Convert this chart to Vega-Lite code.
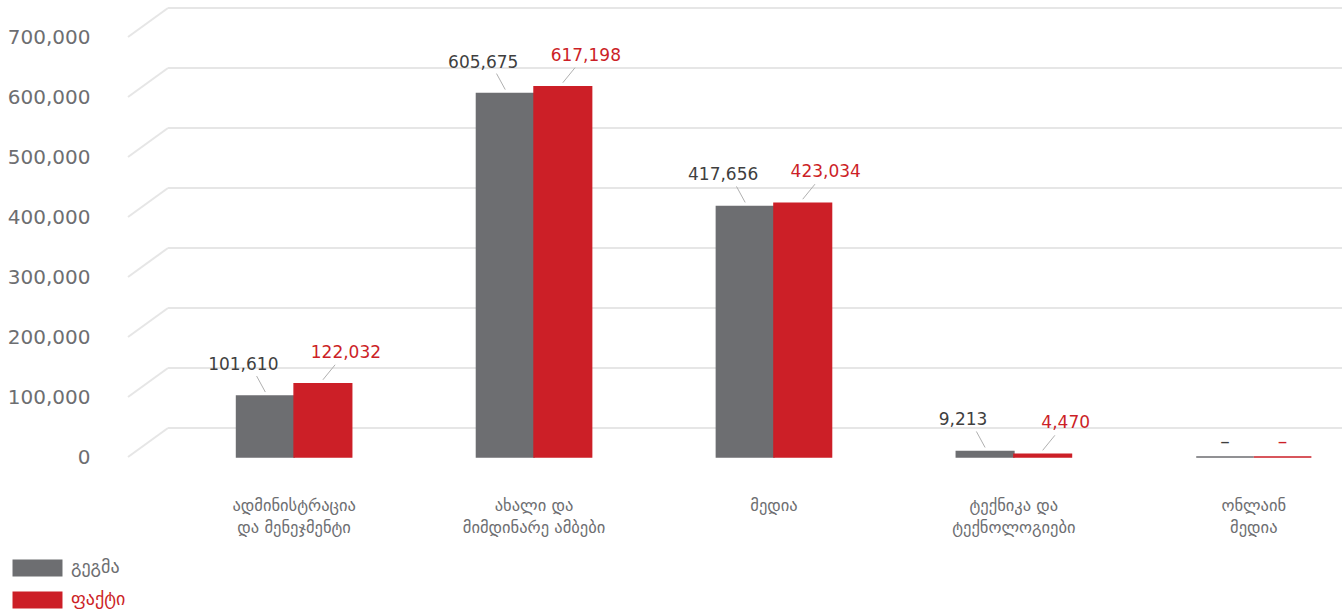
{
  "$schema": "https://vega.github.io/schema/vega-lite/v6.json",
  "width": 1214,
  "height": 457,
  "autosize": {"type": "none"},
  "padding": {"left": 128, "top": 0, "right": 0, "bottom": 159},
  "background": "white",
  "config": {"view": {"stroke": null}, "font": "DejaVu Sans"},
  "data": {"values": [
    {"category": "ადმინისტრაცია\nდა მენეჯმენტი", "series": "გეგმა", "value": 101610},
    {"category": "ადმინისტრაცია\nდა მენეჯმენტი", "series": "ფაქტი", "value": 122032},
    {"category": "ახალი და\nმიმდინარე ამბები", "series": "გეგმა", "value": 605675},
    {"category": "ახალი და\nმიმდინარე ამბები", "series": "ფაქტი", "value": 617198},
    {"category": "მედია", "series": "გეგმა", "value": 417656},
    {"category": "მედია", "series": "ფაქტი", "value": 423034},
    {"category": "ტექნიკა და\nტექნოლოგიები", "series": "გეგმა", "value": 9213},
    {"category": "ტექნიკა და\nტექნოლოგიები", "series": "ფაქტი", "value": 4470},
    {"category": "ონლაინ\nმედია", "series": "გეგმა", "value": 0},
    {"category": "ონლაინ\nმედია", "series": "ფაქტი", "value": 0}
  ]},
  "layer": [
    {
      "data": {"values": [{"v": 0}, {"v": 100000}, {"v": 200000}, {"v": 300000}, {"v": 400000}, {"v": 500000}, {"v": 600000}, {"v": 700000}]},
      "mark": {"type": "rule", "color": "#e6e6e6", "strokeWidth": 2, "yOffset": -29, "xOffset": 40},
      "encoding": {
        "y": {"field": "v", "type": "quantitative"},
        "x": {"value": 0},
        "x2": {"value": "width"}
      }
    },
    {
      "data": {"values": [{"v": 0}, {"v": 100000}, {"v": 200000}, {"v": 300000}, {"v": 400000}, {"v": 500000}, {"v": 600000}, {"v": 700000}]},
      "mark": {"type": "rule", "color": "#e6e6e6", "strokeWidth": 2, "y2Offset": -29, "x2Offset": 40},
      "encoding": {
        "y": {"field": "v", "type": "quantitative"},
        "y2": {"field": "v"},
        "x": {"value": 0},
        "x2": {"value": 0}
      }
    },
    {
      "mark": {"type": "bar", "strokeWidth": 1.5},
      "encoding": {
        "x": {"field": "category", "type": "nominal", "sort": null,
          "scale": {"paddingInner": 0.52, "paddingOuter": 0.29, "align": 0.78},
          "axis": {"title": null, "labelExpr": "split(datum.value, '\\n')", "labelFontSize": 16.5, "labelColor": "#6d6e71", "labelPadding": 40, "labelLineHeight": 22, "ticks": false, "domain": false, "labelAngle": 0, "grid": false}},
        "xOffset": {"field": "series", "type": "nominal", "sort": null, "scale": {"paddingInner": 0, "paddingOuter": 0}},
        "y": {"field": "value", "type": "quantitative", "stack": null,
          "scale": {"domain": [0, 761667], "nice": false},
          "axis": {"title": null, "values": [0, 100000, 200000, 300000, 400000, 500000, 600000, 700000], "format": ",d", "labelFontSize": 20, "labelColor": "#6d6e71", "labelPadding": 38, "ticks": false, "domain": false, "grid": false}},
        "color": {"field": "series", "type": "nominal", "sort": null,
          "scale": {"domain": ["გეგმა", "ფაქტი"], "range": ["#6d6e71", "#cc1f27"]},
          "legend": {"orient": "none", "legendX": -99.5, "legendY": 559, "direction": "vertical", "title": null,
            "symbolType": "M-2.94,-1H2.94V1H-2.94Z", "symbolSize": 289, "symbolStrokeWidth": 0,
            "labelFontSize": 18, "labelOffset": 24.5, "rowPadding": 14, "labelFont": "DejaVu Sans",
            "encode": {"labels": {"update": {"fill": {"signal": "datum.value === 'ფაქტი' ? '#cc1f27' : '#6d6e71'"}}}}}},
        "stroke": {"field": "series", "type": "nominal", "sort": null,
          "scale": {"domain": ["გეგმა", "ფაქტი"], "range": ["#6d6e71", "#cc1f27"]}, "legend": null}
      }
    },
    {
      "transform": [{"filter": "datum.series === 'გეგმა' && datum.value > 0"}],
      "mark": {"type": "text", "dx": -22, "dy": -31, "baseline": "middle", "fontSize": 17, "color": "#3f3f3f"},
      "encoding": {
        "x": {"field": "category", "type": "nominal", "sort": null},
        "xOffset": {"field": "series", "type": "nominal", "sort": null},
        "y": {"field": "value", "type": "quantitative"},
        "text": {"field": "value", "type": "quantitative", "format": ",d"}
      }
    },
    {
      "transform": [{"filter": "datum.series === 'ფაქტი' && datum.value > 0"}],
      "mark": {"type": "text", "dx": 23, "dy": -31, "baseline": "middle", "fontSize": 17, "color": "#cc1f27"},
      "encoding": {
        "x": {"field": "category", "type": "nominal", "sort": null},
        "xOffset": {"field": "series", "type": "nominal", "sort": null},
        "y": {"field": "value", "type": "quantitative"},
        "text": {"field": "value", "type": "quantitative", "format": ",d"}
      }
    },
    {
      "transform": [{"filter": "datum.series === 'გეგმა' && datum.value > 0"}],
      "mark": {"type": "rule", "color": "#b0b0b0", "strokeWidth": 1, "xOffset": 1.5, "x2Offset": -37.5, "yOffset": -4, "y2Offset": -20},
      "encoding": {
        "x": {"field": "category", "type": "nominal", "sort": null},
        "x2": {"field": "category"},
        "xOffset": {"field": "series", "type": "nominal", "sort": null},
        "y": {"field": "value", "type": "quantitative"},
        "y2": {"field": "value"}
      }
    },
    {
      "transform": [{"filter": "datum.series === 'ფაქტი' && datum.value > 0"}],
      "mark": {"type": "rule", "color": "#b0b0b0", "strokeWidth": 1, "xOffset": 1, "x2Offset": 41, "yOffset": -4, "y2Offset": -19},
      "encoding": {
        "x": {"field": "category", "type": "nominal", "sort": null},
        "x2": {"field": "category"},
        "xOffset": {"field": "series", "type": "nominal", "sort": null},
        "y": {"field": "value", "type": "quantitative"},
        "y2": {"field": "value"}
      }
    },
    {
      "transform": [{"filter": "datum.series === 'გეგმა' && datum.value == 0"}],
      "mark": {"type": "text", "text": "–", "dy": -15, "baseline": "middle", "fontSize": 19, "color": "#3f3f3f"},
      "encoding": {
        "x": {"field": "category", "type": "nominal", "sort": null},
        "xOffset": {"field": "series", "type": "nominal", "sort": null},
        "y": {"field": "value", "type": "quantitative"}
      }
    },
    {
      "transform": [{"filter": "datum.series === 'ფაქტი' && datum.value == 0"}],
      "mark": {"type": "text", "text": "–", "dy": -15, "baseline": "middle", "fontSize": 19, "color": "#cc1f27"},
      "encoding": {
        "x": {"field": "category", "type": "nominal", "sort": null},
        "xOffset": {"field": "series", "type": "nominal", "sort": null},
        "y": {"field": "value", "type": "quantitative"}
      }
    }
  ]
}
